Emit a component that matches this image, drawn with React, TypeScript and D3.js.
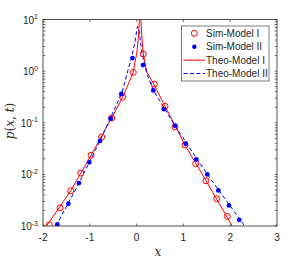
import * as d3 from 'd3';
import { useEffect, useRef } from 'react';

// Sim-Model I (red open circles)
const simIx = [-1.865, -1.637, -1.408, -1.194, -0.974, -0.746, -0.532, -0.297, -0.071, 0.143, 0.378, 0.607, 0.821, 1.034, 1.263, 1.483, 1.712, 1.938];
const simIp = [1.054e-3, 2.25e-3, 4.82e-3, 0.0106, 0.0234, 0.053, 0.124, 0.313, 0.944, 2.14, 0.56, 0.209, 0.0828, 0.0371, 0.0161, 7.55e-3, 3.37e-3, 1.53e-3];

// Sim-Model II (blue dots)
const simIIx = [-1.694, -1.459, -1.231, -1.011, -0.782, -0.553, -0.327, -0.088, 0.137, 0.357, 0.581, 0.821, 1.049, 1.276, 1.511, 1.746, 1.974, 2.194];
const simIIp = [1.07e-3, 2.7e-3, 6.78e-3, 0.0171, 0.0444, 0.121, 0.362, 1.79, 1.31, 0.422, 0.183, 0.0875, 0.0394, 0.0195, 0.01, 4.89e-3, 2.5e-3, 1.32e-3];

// Theo-Model I (red solid)
const theoIx = [-1.925, -1.408, -0.974, -0.532, -0.297, -0.071, -0.034, 0.002, 0.036, 0.058, 0.066, 0.086, 0.094, 0.109, 0.143, 0.216, 0.378, 0.607, 1.034, 1.483, 2.049];
const theoIp = [1.0e-3, 4.8e-3, 0.0234, 0.124, 0.313, 0.944, 1.51, 2.14, 4.32, 9.06, 14, 14, 9.06, 5.0, 2.14, 0.97, 0.54, 0.209, 0.0371, 7.55e-3, 9.8e-4];

// Theo-Model II (blue dashed)
const theoIIx = [-1.722, -1.231, -0.782, -0.605, -0.318, -0.105, -0.034, 0.018, 0.058, 0.109, 0.216, 0.357, 0.821, 1.511, 2.31];
const theoIIp = [1.0e-3, 6.8e-3, 0.0444, 0.101, 0.369, 1.9, 3.71, 7.4, 5.79, 2.37, 0.9, 0.428, 0.0875, 0.01, 1.0e-3];

const xTicks = [-2, -1, 0, 1, 2, 3];
const yExps = [-3, -2, -1, 0, 1];
const legendLabels = ['Sim-Model I', 'Sim-Model II', 'Theo-Model I', 'Theo-Model II'];

const RED = '#ff0000';
const BLUE = '#0000ff';
const AX = '#262626';
const FONT = 'Liberation Sans, Arial, Helvetica, sans-serif';

function Chart() {
  const svgRef = useRef<SVGSVGElement>(null);

  useEffect(() => {
    const svg = d3.select(svgRef.current);
    svg.selectAll('*').remove();

    const L = 43, R = 277, T = 19.5, B = 226;
    const x = d3.scaleLinear().domain([-2, 3]).range([L, R]);
    const y = d3.scaleLog().domain([1e-3, 10]).range([B, T]);

    svg.append('rect').attr('width', 306).attr('height', 261).attr('fill', '#fff');

    svg.append('defs').append('clipPath').attr('id', 'clip')
      .append('rect').attr('x', L).attr('y', T).attr('width', R - L).attr('height', B - T);

    const plot = svg.append('g').attr('clip-path', 'url(#clip)');

    const line = d3.line<[number, number]>().x(d => x(d[0])).y(d => y(d[1]));

    plot.append('path')
      .attr('d', line(theoIx.map((v, i) => [v, theoIp[i]])))
      .attr('fill', 'none').attr('stroke', RED).attr('stroke-width', 1);
    plot.append('path')
      .attr('d', line(theoIIx.map((v, i) => [v, theoIIp[i]])))
      .attr('fill', 'none').attr('stroke', BLUE).attr('stroke-width', 1)
      .attr('stroke-dasharray', '4,2.5');

    plot.selectAll('.simI')
      .data(simIx.map((v, i) => [v, simIp[i]]))
      .join('circle')
      .attr('cx', d => x(d[0])).attr('cy', d => y(d[1])).attr('r', 3)
      .attr('fill', 'none').attr('stroke', RED).attr('stroke-width', 1);
    plot.selectAll('.simII')
      .data(simIIx.map((v, i) => [v, simIIp[i]]))
      .join('circle')
      .attr('cx', d => x(d[0])).attr('cy', d => y(d[1])).attr('r', 2.4)
      .attr('fill', BLUE);

    // box
    svg.append('rect').attr('x', L).attr('y', T).attr('width', R - L).attr('height', B - T)
      .attr('fill', 'none').attr('stroke', AX).attr('stroke-width', 0.8);

    const tl = 2.5;
    const ticks = svg.append('g').attr('stroke', AX).attr('stroke-width', 0.6);
    xTicks.forEach(t => {
      ticks.append('line').attr('x1', x(t)).attr('x2', x(t)).attr('y1', B).attr('y2', B - tl);
      ticks.append('line').attr('x1', x(t)).attr('x2', x(t)).attr('y1', T).attr('y2', T + tl);
    });
    const yMinor: number[] = [];
    yExps.slice(0, -1).forEach(e => {
      for (let m = 1; m < 10; m++) yMinor.push(m * Math.pow(10, e));
    });
    yMinor.push(10);
    yMinor.forEach(v => {
      ticks.append('line').attr('x1', L).attr('x2', L + tl).attr('y1', y(v)).attr('y2', y(v));
      ticks.append('line').attr('x1', R).attr('x2', R - tl).attr('y1', y(v)).attr('y2', y(v));
    });

    // x tick labels
    svg.append('g').selectAll('text').data(xTicks).join('text')
      .attr('x', d => x(d)).attr('y', 241)
      .attr('text-anchor', 'middle').attr('font-family', FONT).attr('font-size', 10)
      .attr('fill', AX).text(d => String(d));

    // y tick labels
    yExps.forEach(e => {
      const t = svg.append('text').attr('x', 38).attr('y', y(Math.pow(10, e)) + 4)
        .attr('text-anchor', 'end').attr('font-family', FONT).attr('font-size', 10).attr('fill', AX);
      t.append('tspan').text('10');
      t.append('tspan').attr('font-size', 7).attr('dy', -4.5).text(String(e));
    });

    // axis labels
    svg.append('text').attr('x', 158).attr('y', 256).attr('text-anchor', 'middle')
      .attr('font-family', 'DejaVu Serif, serif').attr('font-style', 'italic').attr('font-size', 12)
      .attr('fill', AX).text('x');
    const yl = svg.append('text').attr('transform', 'translate(14,121) rotate(-90)')
      .attr('text-anchor', 'middle').attr('font-family', 'DejaVu Serif, serif').attr('font-size', 12)
      .attr('fill', AX);
    yl.append('tspan').attr('font-style', 'italic').text('p');
    yl.append('tspan').text('(');
    yl.append('tspan').attr('font-style', 'italic').text('x');
    yl.append('tspan').text(', ');
    yl.append('tspan').attr('font-style', 'italic').text('t');
    yl.append('tspan').text(')');

    // legend
    const lg = svg.append('g');
    lg.append('rect').attr('x', 181.5).attr('y', 26).attr('width', 87.5).attr('height', 55)
      .attr('fill', '#fff').attr('stroke', AX).attr('stroke-width', 0.6);
    const rows = [33.3, 46.7, 60.1, 73.5];
    legendLabels.forEach((lab, i) => {
      lg.append('text').attr('x', 206).attr('y', rows[i] + 3.6)
        .attr('font-family', FONT).attr('font-size', 10).attr('fill', AX).text(lab);
    });
    lg.append('circle').attr('cx', 194.3).attr('cy', rows[0]).attr('r', 3)
      .attr('fill', 'none').attr('stroke', RED).attr('stroke-width', 1);
    lg.append('circle').attr('cx', 194.3).attr('cy', rows[1]).attr('r', 2.2).attr('fill', BLUE);
    lg.append('line').attr('x1', 183.5).attr('x2', 205).attr('y1', rows[2]).attr('y2', rows[2])
      .attr('stroke', RED).attr('stroke-width', 1);
    lg.append('line').attr('x1', 183.5).attr('x2', 205).attr('y1', rows[3]).attr('y2', rows[3])
      .attr('stroke', BLUE).attr('stroke-width', 1).attr('stroke-dasharray', '4,2.5');
  }, []);

  return <svg ref={svgRef} width={306} height={261} style={{ position: 'absolute', left: 0, top: 0 }} />;
}

export default function App() {
  return <Chart />;
}
